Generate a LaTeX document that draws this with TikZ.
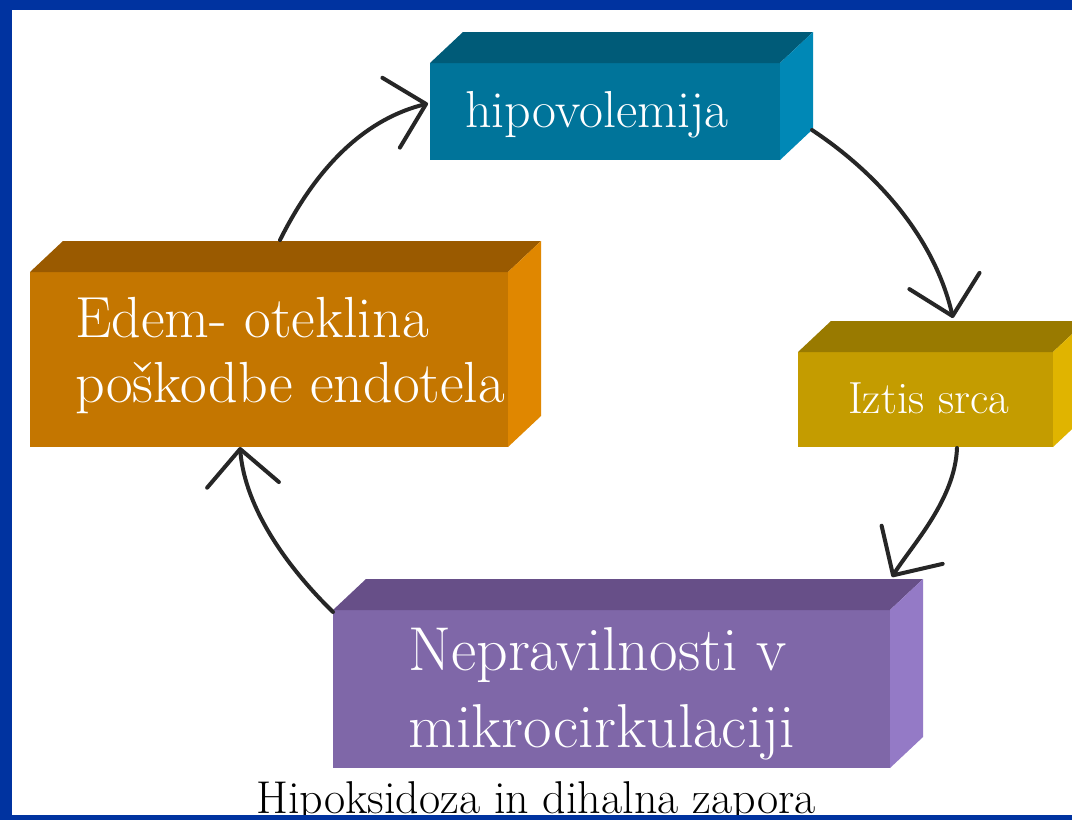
\documentclass[tikz,border=0pt]{standalone}
\usepackage{fontspec}
\usepackage{xcolor}
\usetikzlibrary{arrows.meta}

\definecolor{slideblue}{RGB}{0,51,160}
\definecolor{hipoFront}{RGB}{0,116,154}
\definecolor{hipoTop}{RGB}{0,91,120}
\definecolor{hipoSide}{RGB}{0,136,182}
\definecolor{edemFront}{RGB}{196,118,0}
\definecolor{edemTop}{RGB}{154,90,0}
\definecolor{edemSide}{RGB}{224,135,0}
\definecolor{iztisFront}{RGB}{196,156,0}
\definecolor{iztisTop}{RGB}{153,122,0}
\definecolor{iztisSide}{RGB}{224,180,0}
\definecolor{nepFront}{RGB}{127,103,168}
\definecolor{nepTop}{RGB}{103,79,136}
\definecolor{nepSide}{RGB}{148,122,198}

% top and side faces of a slab: node, top colour, side colour
\newcommand{\slabfaces}[3]{%
  \fill[#2] (#1.north west) -- ++(33,-31) -- ([shift={(33,-31)}]#1.north east) -- (#1.north east) -- cycle;
  \fill[#3] (#1.north east) -- ++(33,-31) -- ([shift={(33,-31)}]#1.south east) -- (#1.south east) -- cycle;
}

\begin{document}
\begin{tikzpicture}[x=1pt,y=-1pt,
  slab/.style={rectangle, inner sep=0pt, outer sep=0pt},
  boxtext/.style={text=white, anchor=base west, align=left, inner sep=0pt},
  cycarrow/.style={line width=4pt, line cap=round, draw=black!85,
    -{Straight Barb[length=36pt,width=72pt,round]}}]

\useasboundingbox (0,0) rectangle (1072,820);
\clip (0,0) rectangle (1072,820);

% Slide background
\fill[white] (0,0) rectangle (1072,820);

% Front faces
\node[slab, fill=hipoFront, minimum width=350pt, minimum height=97pt] (hipo) at (605,111.5) {};
\node[slab, fill=edemFront, minimum width=478pt, minimum height=175pt] (edem) at (269,359.5) {};
\node[slab, fill=iztisFront, minimum width=255pt, minimum height=95pt] (iztis) at (925.5,399.5) {};
\node[slab, fill=nepFront, minimum width=557pt, minimum height=158pt] (nep) at (611.5,689) {};

% Top and side faces
\slabfaces{hipo}{hipoTop}{hipoSide}
\slabfaces{edem}{edemTop}{edemSide}
\slabfaces{iztis}{iztisTop}{iztisSide}
\slabfaces{nep}{nepTop}{nepSide}

% Labels on the slabs (base = last line)
\node[boxtext, font=\fontsize{52}{56}\selectfont] (hipotxt) at (465,127) {hipovolemija};
\node[boxtext, font=\fontsize{58}{65}\selectfont] (edemtxt) at (75,402) {Edem- oteklina\\poškodbe endotela};
\node[boxtext, font=\fontsize{45}{50}\selectfont] (iztistxt) at (848,413) {Iztis srca};
\node[boxtext, font=\fontsize{62}{77}\selectfont] (neptxt) at (408,747) {Nepravilnosti v\\mikrocirkulaciji};

% Caption under the cycle
\node[anchor=base west, inner sep=0pt, font=\fontsize{46}{50}\selectfont] (caption) at (256,813) {Hipoksidoza in dihalna zapora};

% Cycle arrows
\draw[cycarrow] ([shift={(250,-32)}]edem.north west)
  .. controls (320,160) and (370,118) .. ([shift={(-2,-8)}]hipo.west);
\draw[cycarrow] ([shift={(32,-30)}]hipo.south east)
  .. controls (880,175) and (935,240) .. ([shift={(155,-34)}]iztis.north west);
\draw[cycarrow] ([shift={(159,1)}]iztis.south west)
  .. controls (955,500) and (912,545) .. ([shift={(2,-33)}]nep.north east);
\draw[cycarrow] ([shift={(0,2)}]nep.north west)
  .. controls (290,570) and (245,510) .. ([shift={(210,0)}]edem.south west);

% Slide frame
\fill[slideblue] (0,0) rectangle (1072,10);
\fill[slideblue] (0,0) rectangle (12,820);
\fill[slideblue] (0,815) rectangle (1072,820);

\end{tikzpicture}
\end{document}
